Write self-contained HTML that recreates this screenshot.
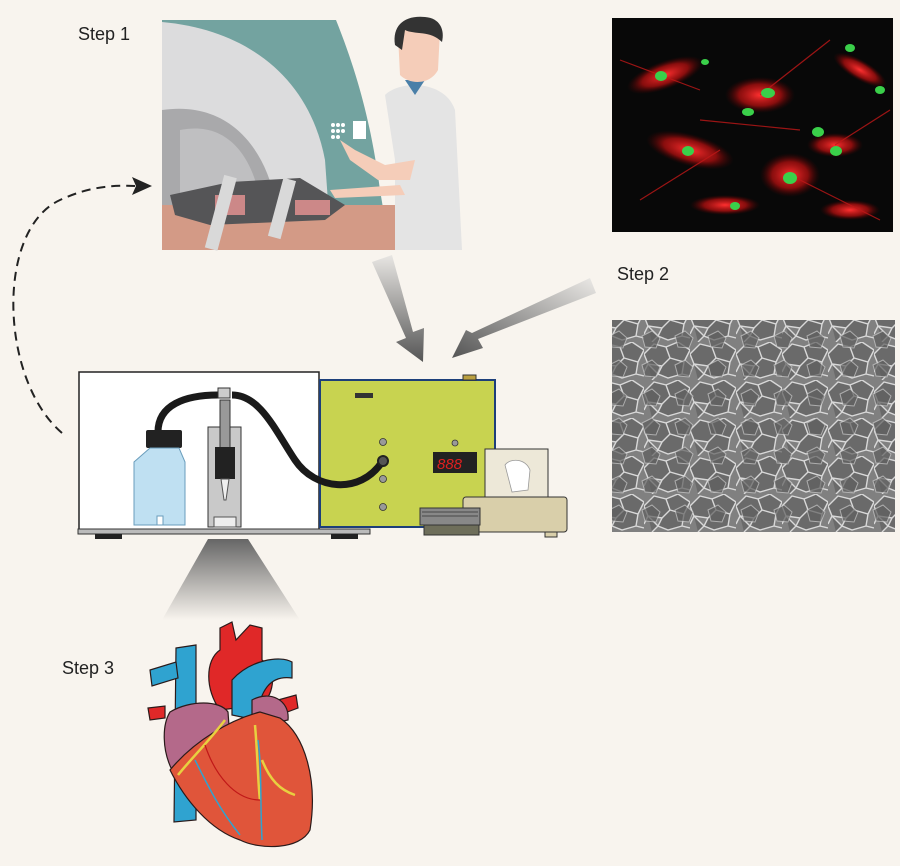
<!DOCTYPE html>
<html><head><meta charset="utf-8"><style>
html,body{margin:0;padding:0;background:#f8f4ee;}
svg{display:block;}
text{font-family:"Liberation Sans",sans-serif;}
</style></head><body>
<svg width="900" height="866" viewBox="0 0 900 866" xmlns="http://www.w3.org/2000/svg">
<defs>
<linearGradient id="ar1" x1="0" y1="0" x2="0" y2="1"><stop offset="0" stop-color="#e8e6e3"/><stop offset="1" stop-color="#555"/></linearGradient>
<linearGradient id="ar2" x1="1" y1="0" x2="0" y2="1"><stop offset="0" stop-color="#ebe9e6"/><stop offset="1" stop-color="#555"/></linearGradient>
<linearGradient id="spot" x1="0" y1="0" x2="0" y2="1"><stop offset="0" stop-color="#666"/><stop offset="1" stop-color="#f8f4ee"/></linearGradient>
<radialGradient id="rc" cx="0.5" cy="0.5" r="0.5"><stop offset="0" stop-color="#ff3030"/><stop offset="0.6" stop-color="#c01010" stop-opacity="0.7"/><stop offset="1" stop-color="#500" stop-opacity="0"/></radialGradient>
<pattern id="sem" width="46" height="38" patternUnits="userSpaceOnUse">
<rect width="46" height="38" fill="#808080"/>
<path d="M0 12 L10 2 L22 5 L26 16 L18 24 L4 22Z M22 5 L34 0 L46 8 L40 20 L26 16 M18 24 L26 16 L40 20 L38 32 L24 36 L14 32Z M4 22 L14 32 L8 38 M38 32 L46 34 M0 30 L4 22" fill="#6a6a6a" stroke="#d8d8d8" stroke-width="1.4"/>
</pattern>
<pattern id="sem2" x="13" y="9" width="33" height="29" patternUnits="userSpaceOnUse">
<path d="M2 8 L12 3 L20 10 L16 20 L5 19Z" fill="#5e5e5e" stroke="#c8c8c8" stroke-width="1" opacity="0.7"/>
</pattern>
</defs>
<rect width="900" height="866" fill="#f8f4ee"/>

<text x="78" y="40" font-size="18" fill="#222">Step 1</text>
<text x="617" y="280" font-size="18" fill="#222">Step 2</text>
<text x="62" y="674" font-size="18" fill="#222">Step 3</text>

<!-- MRI scene -->
<g>
<rect x="162" y="20" width="293" height="230" fill="#f8f4ee"/>
<path d="M162 20 H336 C360 80 372 130 380 190 L390 250 H162Z" fill="#73a3a0"/>
<path d="M162 22 C250 30 310 80 325 160 L330 230 H162Z" fill="#dcdcdd"/>
<path d="M162 110 C230 100 265 150 275 200 L280 240 H162Z" fill="#a9a9ab"/>
<path d="M180 130 C230 120 255 160 262 210 L265 240 H180Z" fill="#bfbfc1"/>
<path d="M162 205 H440 V250 H162Z" fill="#d39a86"/>
<path d="M170 195 L230 182 L300 178 L345 205 L325 220 L210 225 L175 215Z" fill="#555557"/>
<rect x="215" y="195" width="30" height="20" fill="#c88" />
<rect x="295" y="200" width="35" height="15" fill="#c88"/>
<rect x="215" y="175" width="13" height="75" fill="#d9d9d9" transform="rotate(15 220 210)"/>
<rect x="275" y="178" width="13" height="60" fill="#d9d9d9" transform="rotate(15 280 210)"/>
<path d="M395 250 C400 235 420 225 440 232 V250Z" fill="#444"/>
<path d="M385 95 C400 80 445 80 455 110 L462 250 H395 L395 160Z" fill="#e4e4e4"/>
<path d="M405 80 L415 95 L425 80Z" fill="#4a7fa8"/>
<path d="M398 35 C400 20 430 18 440 30 L438 70 C430 85 410 85 400 75Z" fill="#f5cdb9"/>
<path d="M395 45 C392 25 405 15 425 17 C440 18 445 30 442 42 C430 30 415 35 405 30 L402 50Z" fill="#333"/>
<path d="M340 140 L355 150 L385 165 L415 160 L410 180 L378 180 L350 160Z" fill="#f5cdb9"/>
<path d="M330 190 L400 185 L405 195 L335 198Z" fill="#f5cdb9"/>
<g fill="#fff"><circle cx="333" cy="125" r="2"/><circle cx="338" cy="125" r="2"/><circle cx="343" cy="125" r="2"/><circle cx="333" cy="131" r="2"/><circle cx="338" cy="131" r="2"/><circle cx="343" cy="131" r="2"/><circle cx="333" cy="137" r="2"/><circle cx="338" cy="137" r="2"/><rect x="353" y="121" width="13" height="18"/></g>
</g>

<path d="M62 433 C0 380 -5 230 60 200 C90 186 115 185 135 186" fill="none" stroke="#222" stroke-width="2" stroke-dasharray="9,6"/>
<path d="M152 186 L132 177 L136 186 L132 195Z" fill="#222"/>

<path d="M372 262 L392 255 L413 332 L424 328 L423 362 L396 342 L406 338Z" fill="url(#ar1)"/>
<path d="M590 278 L596 293 L478 339 L483 348 L452 358 L466 330 L472 333Z" fill="url(#ar2)"/>

<!-- fluorescence -->
<rect x="612" y="18" width="281" height="214" fill="#080808"/>
<g>
<ellipse cx="665" cy="75" rx="40" ry="14" fill="url(#rc)" transform="rotate(-20 665 75)"/>
<ellipse cx="760" cy="95" rx="35" ry="18" fill="url(#rc)"/>
<ellipse cx="690" cy="150" rx="45" ry="16" fill="url(#rc)" transform="rotate(15 690 150)"/>
<ellipse cx="790" cy="175" rx="30" ry="22" fill="url(#rc)"/>
<ellipse cx="835" cy="145" rx="28" ry="12" fill="url(#rc)"/>
<ellipse cx="725" cy="205" rx="35" ry="10" fill="url(#rc)"/>
<ellipse cx="860" cy="70" rx="30" ry="10" fill="url(#rc)" transform="rotate(30 860 70)"/>
<ellipse cx="850" cy="210" rx="30" ry="10" fill="url(#rc)"/>
<g stroke="#c01818" stroke-width="1.2" opacity="0.8"><path d="M620 60 L700 90 M640 200 L720 150 M760 95 L830 40 M790 175 L880 220 M700 120 L800 130 M835 145 L890 110"/></g>
<g fill="#3ad04a"><ellipse cx="661" cy="76" rx="6" ry="5"/><ellipse cx="768" cy="93" rx="7" ry="5"/><ellipse cx="748" cy="112" rx="6" ry="4"/><ellipse cx="818" cy="132" rx="6" ry="5"/><ellipse cx="790" cy="178" rx="7" ry="6"/><ellipse cx="688" cy="151" rx="6" ry="5"/><ellipse cx="836" cy="151" rx="6" ry="5"/><ellipse cx="850" cy="48" rx="5" ry="4"/><ellipse cx="880" cy="90" rx="5" ry="4"/><ellipse cx="735" cy="206" rx="5" ry="4"/><ellipse cx="705" cy="62" rx="4" ry="3"/></g>
</g>

<!-- SEM -->
<rect x="612" y="320" width="283" height="212" fill="url(#sem)"/>
<rect x="612" y="320" width="283" height="212" fill="url(#sem2)"/>

<!-- apparatus -->
<rect x="79" y="372" width="240" height="158" fill="#fff" stroke="#222" stroke-width="1.5"/>
<rect x="320" y="380" width="175" height="147" fill="#c8d350" stroke="#1d3f7a" stroke-width="2"/>
<rect x="463" y="375" width="13" height="5" fill="#bba040" stroke="#333"/>
<rect x="355" y="393" width="18" height="5" fill="#333"/>
<g fill="#999" stroke="#333" stroke-width="0.8"><circle cx="383" cy="442" r="3.5"/><circle cx="383" cy="479" r="3.5"/><circle cx="383" cy="507" r="3.5"/><circle cx="455" cy="443" r="3"/></g>
<rect x="433" y="452" width="44" height="21" fill="#222"/>
<text x="437" y="469" font-size="15" fill="#e02020" font-style="italic" font-family="Liberation Mono">888</text>
<!-- tubing -->
<path d="M158 432 C158 405 185 395 218 395 M232 395 C260 395 275 430 295 460 C315 490 360 495 382 462" fill="none" stroke="#1a1a1a" stroke-width="7"/>
<circle cx="383" cy="461" r="5" fill="#555" stroke="#222" stroke-width="2"/>
<rect x="218" y="388" width="12" height="10" fill="#ccc" stroke="#333"/>
<rect x="146" y="430" width="36" height="18" rx="2" fill="#222"/>
<path d="M150 448 H179 L185 462 V525 H134 V462Z" fill="#bfe0f2" stroke="#6a9dbc" stroke-width="1"/>
<rect x="157" y="516" width="6" height="9" fill="#fff" stroke="#6a9dbc"/>
<rect x="208" y="427" width="33" height="100" fill="#c9c9c9" stroke="#333" stroke-width="1"/>
<rect x="220" y="400" width="10" height="50" fill="#999" stroke="#333"/>
<rect x="215" y="447" width="20" height="32" fill="#222"/>
<path d="M221 479 H229 L226 500 H224Z" fill="#eee" stroke="#555"/>
<rect x="214" y="517" width="22" height="10" fill="#eee" stroke="#555"/>
<rect x="78" y="529" width="292" height="5" fill="#bbb" stroke="#333"/>
<rect x="95" y="534" width="27" height="5" fill="#222"/>
<rect x="331" y="534" width="27" height="5" fill="#222"/>
<!-- balance -->
<rect x="463" y="497" width="104" height="35" rx="3" fill="#d9cfaa" stroke="#333"/>
<rect x="485" y="449" width="63" height="48" fill="#ede8d8" stroke="#333"/>
<path d="M505 465 C510 458 525 458 530 470 L528 490 L512 492Z" fill="#fff" stroke="#999" stroke-width="0.8"/>
<rect x="420" y="508" width="60" height="17" fill="#888" stroke="#333"/>
<g stroke="#333" stroke-width="0.7"><line x1="422" y1="512" x2="478" y2="512"/><line x1="422" y1="516" x2="478" y2="516"/></g>
<rect x="424" y="525" width="55" height="10" fill="#6e6e5a" stroke="#333"/>
<rect x="545" y="532" width="12" height="5" fill="#d9cfaa" stroke="#333"/>

<path d="M208 539 H248 L300 620 H162Z" fill="url(#spot)"/>

<!-- heart -->
<g stroke="#2a1a1a" stroke-width="1.2">
<path d="M176 648 L196 645 L196 820 L174 822Z" fill="#2fa3d0"/>
<path d="M150 670 L176 662 L178 678 L152 686Z" fill="#2fa3d0"/>
<path d="M148 708 L165 706 L165 718 L150 720Z" fill="#e02828"/>
<path d="M220 628 L232 622 L236 640 L250 625 L262 628 L262 660 C280 670 272 700 260 705 L220 710 C205 690 205 660 220 650Z" fill="#e02828"/>
<path d="M232 680 C250 660 280 655 292 662 L292 678 C270 675 260 690 256 720 L232 715Z" fill="#2fa3d0"/>
<path d="M278 700 L296 695 L298 708 L282 714Z" fill="#e02828"/>
<path d="M170 712 C190 700 220 700 228 712 L230 740 L200 760 L172 770 C162 750 162 725 170 712Z" fill="#b4698a"/>
<path d="M252 700 C270 690 290 700 288 720 L265 725 L252 716Z" fill="#b4698a"/>
<path d="M170 770 C195 740 230 720 260 712 L280 718 C305 735 318 780 310 830 C300 850 260 850 240 840 C210 830 185 800 170 770Z" fill="#e0553a"/>
</g>
<g fill="none" stroke-width="2.5">
<path d="M225 720 C210 740 190 760 178 775" stroke="#e8d040"/>
<path d="M255 725 C258 760 258 785 260 800" stroke="#e8d040"/>
<path d="M262 760 C270 780 280 790 295 795" stroke="#e8d040"/>
<path d="M195 760 C210 790 220 810 240 835" stroke="#2fa3d0" stroke-width="1.5"/>
<path d="M258 740 C262 770 260 800 262 840" stroke="#2fa3d0" stroke-width="1.5"/>
<path d="M205 745 C215 775 235 800 260 800" stroke="#c01818" stroke-width="1.2"/>
</g>
</svg>
</body></html>
